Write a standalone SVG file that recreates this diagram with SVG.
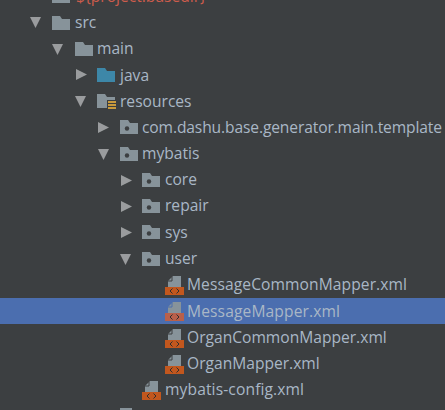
<svg xmlns="http://www.w3.org/2000/svg" width="445" height="410" viewBox="0 0 445 410">
<style>
text{font-family:"Open Sans","Noto Sans",sans-serif;font-size:15.6px;fill:#a9b7c6}
.f{fill:#87939a}.d{fill:#3c3f41}.tri{fill:#9a9c9e}
</style>
<defs>
<path id="folder" d="M0 0H8L10 3H18V14H0Z"/>
<g id="pkg"><use href="#folder" class="f"/><circle cx="7" cy="8.500" r="2.200" class="d"/></g>
<polygon id="right" class="tri" points="0,0 11,5.500 0,11"/>
<polygon id="down" class="tri" points="0,0 11,0 5.500,11"/>
<g id="xml">
<path d="M8 0H16V11H3V5Z" fill="#87939a"/><path d="M7 0.500V5H3" fill="none" stroke="currentColor"/>
<rect x="0" y="11" width="19" height="8" fill="var(--o,#c2571e)"/>
<path d="M7.500 12.500L5 15L7.500 17.500M11.500 12.500L14 15L11.500 17.500" fill="none" stroke="#2f2f2f" stroke-width="1"/>
</g>
</defs>
<rect width="445" height="410" fill="#3c3f41"/>
<rect x="0" y="298" width="445" height="26" fill="#4b6eaf"/>
<g id="node-basedir"><rect x="52" y="-12" width="18" height="15" class="f"/><text x="76" y="2" style="fill:#cc5c4c">${project.basedir}</text></g>
<g id="node-src"><use href="#down" x="30" y="17"/><use href="#folder" class="f" x="52" y="16"/><text x="75" y="28">src</text></g>
<g id="node-main"><use href="#down" x="52" y="44"/><use href="#folder" class="f" x="75" y="42"/><text x="97" y="54">main</text></g>
<g id="node-java"><use href="#right" x="76" y="69"/><use href="#folder" fill="#3d87a8" x="97" y="68"/><text x="120" y="81">java</text></g>
<g id="node-resources"><use href="#down" x="75" y="96"/><use href="#folder" class="f" x="97" y="94"/><rect x="107" y="100" width="10" height="11" fill="#3c3f41"/><path d="M108 102H116M108 105H116M108 108H116" stroke="#c99a3c" stroke-width="1.800"/><text x="120" y="107">resources</text></g>
<g id="node-template"><use href="#right" x="98" y="122"/><use href="#pkg" x="120" y="120"/><text x="142" y="133" textLength="300">com.dashu.base.generator.main.template</text></g>
<g id="node-mybatis"><use href="#down" x="98" y="149"/><use href="#pkg" x="120" y="147"/><text x="142" y="159">mybatis</text></g>
<g id="node-core"><use href="#right" x="121" y="175"/><use href="#pkg" x="142" y="173"/><text x="165" y="185">core</text></g>
<g id="node-repair"><use href="#right" x="121" y="201"/><use href="#pkg" x="142" y="199"/><text x="165" y="211">repair</text></g>
<g id="node-sys"><use href="#right" x="121" y="227"/><use href="#pkg" x="142" y="225"/><text x="165" y="238">sys</text></g>
<g id="node-user"><use href="#down" x="120" y="254"/><use href="#pkg" x="142" y="252"/><text x="165" y="264">user</text></g>
<g id="node-mcm" color="#3c3f41"><use href="#xml" x="165" y="276"/><text x="187" y="290" textLength="220">MessageCommonMapper.xml</text></g>
<g id="node-mm" color="#4b6eaf" style="--o:#b9604a"><use href="#xml" x="165" y="302"/><text x="187" y="317" textLength="153">MessageMapper.xml</text></g>
<g id="node-ocm" color="#3c3f41"><use href="#xml" x="165" y="329"/><text x="187" y="343">OrganCommonMapper.xml</text></g>
<g id="node-om" color="#3c3f41"><use href="#xml" x="165" y="355"/><text x="187" y="369">OrganMapper.xml</text></g>
<g id="node-config" color="#3c3f41"><use href="#xml" x="142" y="381"/><text x="165" y="395" textLength="139">mybatis-config.xml</text></g>
<rect id="node-cut" x="120" y="408" width="12" height="2" class="f"/>
<g id="connectors"/>
</svg>
